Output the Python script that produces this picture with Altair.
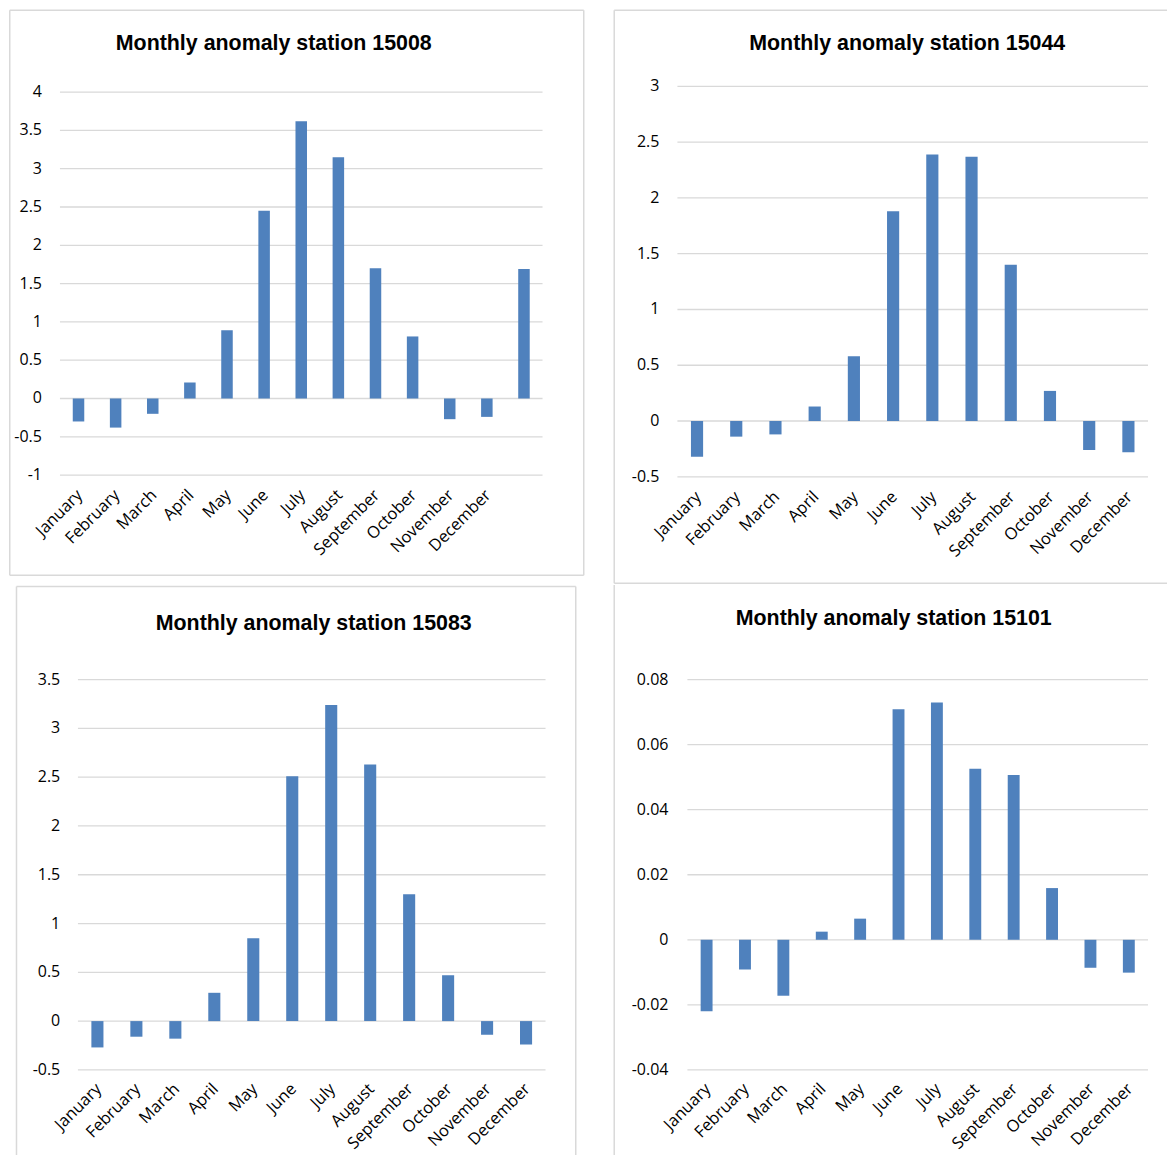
import altair as alt
import pandas as pd

# ---------------- data ----------------
months = ["January", "February", "March", "April", "May", "June", "July",
          "August", "September", "October", "November", "December"]

cats_15008 = months + [" "]
vals_15008 = [-0.30, -0.38, -0.20, 0.21, 0.89, 2.45, 3.62, 3.15, 1.70, 0.81, -0.27, -0.24, 1.69]
ticks_15008 = [-1, -0.5, 0, 0.5, 1, 1.5, 2, 2.5, 3, 3.5, 4]

cats_15044 = months
vals_15044 = [-0.32, -0.14, -0.12, 0.13, 0.58, 1.88, 2.39, 2.37, 1.40, 0.27, -0.26, -0.28]
ticks_15044 = [-0.5, 0, 0.5, 1, 1.5, 2, 2.5, 3]

cats_15083 = months
vals_15083 = [-0.27, -0.16, -0.18, 0.29, 0.85, 2.51, 3.24, 2.63, 1.30, 0.47, -0.14, -0.24]
ticks_15083 = [-0.5, 0, 0.5, 1, 1.5, 2, 2.5, 3, 3.5]

cats_15101 = months
vals_15101 = [-0.0220, -0.0091, -0.0172, 0.0025, 0.0065, 0.0709, 0.0730, 0.0526,
              0.0507, 0.0159, -0.0086, -0.0101]
ticks_15101 = [-0.04, -0.02, 0, 0.02, 0.04, 0.06, 0.08]

titles = ["Monthly anomaly station 15008", "Monthly anomaly station 15044",
          "Monthly anomaly station 15083", "Monthly anomaly station 15101"]

# ---------------- style ----------------
FONT_LABEL = "Open Sans"
FONT_TITLE = "Liberation Sans"
BAR = "#4F81BD"
GRID = "#D9D9D9"
BORDER = "#D9D9D9"
BW = 1.5


def panel(title, cats, vals, ticks, size, plot, box, ylab_x, title_xy, sides, xlab_off=19):
    """size: (W, H) of the panel cell. plot: (x0, x1, ybottom, ytop) of the data
    rectangle inside the cell. box: (l, t, r, b) of the border frame."""
    W, H = size
    x0, x1, yb, yt = plot
    df = pd.DataFrame({"month": cats, "value": vals})
    tk = pd.DataFrame({"tick": ticks, "label": [f"{v:g}" for v in ticks]})

    xs = alt.Scale(domain=cats, range=[x0, x1], paddingInner=0.69, paddingOuter=0.345)
    ys = alt.Scale(domain=[ticks[0], ticks[-1]], range=[yb, yt], nice=False)

    grid = alt.Chart(tk).mark_rule(color=GRID, strokeWidth=1.3).encode(
        y=alt.Y("tick:Q", scale=ys, axis=None),
        x=alt.value(x0), x2=alt.value(x1),
    )
    bars = alt.Chart(df).mark_bar(color=BAR).encode(
        x=alt.X("month:N", sort=cats, scale=xs, axis=None),
        y=alt.Y("value:Q", scale=ys, axis=None),
        y2=alt.datum(0),
    )
    ylabels = alt.Chart(tk).mark_text(
        font=FONT_LABEL, fontSize=16, color="#000000", align="right", baseline="middle"
    ).encode(
        y=alt.Y("tick:Q", scale=ys, axis=None),
        x=alt.value(ylab_x),
        text="label:N",
    )
    xlabels = alt.Chart(df).mark_text(
        font=FONT_LABEL, fontSize=16.5, color="#000000", align="right", baseline="middle",
        angle=315, dx=2,
    ).encode(
        x=alt.X("month:N", sort=cats, scale=xs, axis=None),
        y=alt.value(yb + xlab_off),
        text="month:N",
    )
    tdf = pd.DataFrame({"title": [title]})
    ttl = alt.Chart(tdf).mark_text(
        font=FONT_TITLE, fontSize=21.4, fontWeight="bold", color="#000000",
        align="center", baseline="alphabetic",
    ).encode(x=alt.value(title_xy[0]), y=alt.value(title_xy[1]), text="title:N")

    layers = [grid, bars, ylabels, xlabels, ttl]

    l, t, r, b = box
    side_defs = {
        "top": dict(x=l, x2=r, y=t),
        "bottom": dict(x=l, x2=r, y=b),
        "left": dict(x=l, y=t, y2=b),
        "right": dict(x=r, y=t, y2=b),
    }
    for s in sides:
        enc = {k: alt.value(v) for k, v in side_defs[s].items()}
        layers.append(alt.Chart(tdf).mark_rule(color=BORDER, strokeWidth=BW).encode(**enc))

    return alt.layer(*layers).properties(width=W, height=H)


# Panel 1: cell origin (9, 9)
p1 = panel(titles[0], cats_15008, vals_15008, ticks_15008,
           size=(576, 567), plot=(51, 534, 466, 82.7), box=(0.75, 0.75, 575.25, 566.25),
           ylab_x=33, title_xy=(265, 41), sides=["top", "left", "bottom", "right"])
# Panel 2: cell origin (614, 9)
p2 = panel(titles[1], cats_15044, vals_15044, ticks_15044,
           size=(554, 575), plot=(64, 535, 467.7, 77), box=(0.75, 0.75, 554, 574.25),
           ylab_x=46, title_xy=(294, 41), sides=["top", "left", "bottom"])
# Panel 3: cell origin (9, 584)
p3 = panel(titles[2], cats_15083, vals_15083, ticks_15083,
           size=(568, 571), plot=(69, 537, 485.3, 94.7), box=(7.5, 1.5, 567.25, 571),
           ylab_x=51.3, title_xy=(305, 45), sides=["top", "left", "right"], xlab_off=18)
# Panel 4: cell origin (614, 584)
p4 = panel(titles[3], cats_15101, vals_15101, ticks_15101,
           size=(554, 571), plot=(74, 535, 485.3, 94.7), box=(0.75, 0, 554, 571),
           ylab_x=55, title_xy=(280.5, 40), sides=["left"], xlab_off=18)

row1 = alt.hconcat(p1, p2, spacing=29)
row2 = alt.hconcat(p3, p4, spacing=37)

chart = (
    alt.vconcat(row1, row2, spacing=0)
    .properties(padding={"left": 9, "top": 9, "right": 0, "bottom": 0}, background="white")
    .configure_view(stroke=None)
)

chart.save("out.html", embed_options={"renderer": "svg", "actions": False})
